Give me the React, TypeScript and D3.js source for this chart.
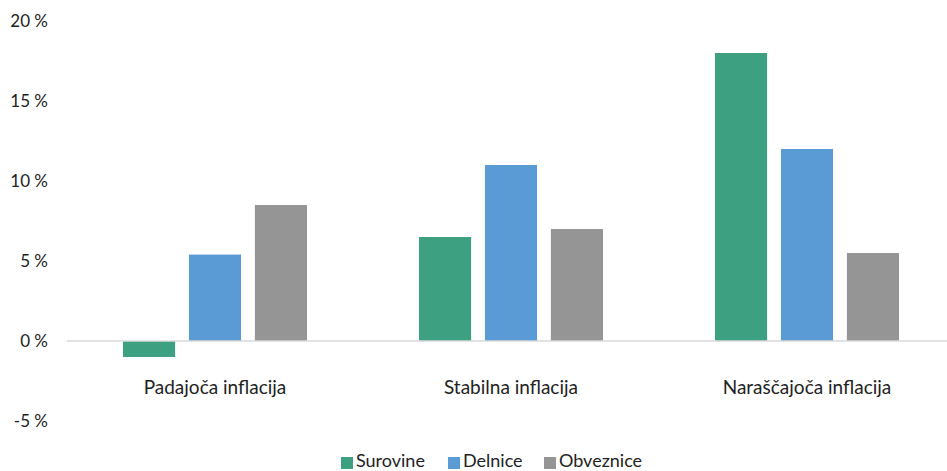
import React from "react";
import * as d3 from "d3";

const categories = ["Padajoča inflacija", "Stabilna inflacija", "Naraščajoča inflacija"];
const seriesNames = ["Surovine", "Delnice", "Obveznice"];
const surovine = [-1, 6.5, 18];
const delnice = [5.4, 11, 12];
const obveznice = [8.5, 7, 5.5];
const yTicks = [-5, 0, 5, 10, 15, 20];
const colors = ["#3CA081", "#5B9BD5", "#949594"];

const W = 947;
const H = 471;
const FONT = "Lato, 'Open Sans', sans-serif";

export default function App() {
  const values = [surovine, delnice, obveznice];
  const y = d3.scaleLinear().domain([-5, 20]).range([421, 21]);
  const x0 = d3.scaleBand<string>().domain(categories).range([67, 955]).paddingInner(0).paddingOuter(0);
  const x1 = d3
    .scaleBand<string>()
    .domain(seriesNames)
    .range([56, x0.bandwidth() - 56])
    .paddingInner(0.21);

  const legendX = [341, 448, 544];

  return (
    <svg
      width={W}
      height={H}
      style={{ position: "absolute", left: 0, top: 0, background: "#fff" }}
      fontFamily={FONT}
    >
      {yTicks.map((t) => (
        <text key={t} x={48} y={y(t)} dy="0.35em" textAnchor="end" fontSize={17} fill="#222">
          {t} %
        </text>
      ))}
      {categories.map((c, ci) => (
        <g key={c} transform={`translate(${x0(c)},0)`}>
          {seriesNames.map((s, si) => {
            const v = values[si][ci];
            const y0 = y(0);
            const yv = y(v);
            return (
              <rect
                key={s}
                x={x1(s)}
                y={Math.min(y0, yv)}
                width={x1.bandwidth()}
                height={Math.abs(yv - y0)}
                fill={colors[si]}
              />
            );
          })}
          <text
            x={x0.bandwidth() / 2}
            y={387}
            dy="0.35em"
            textAnchor="middle"
            fontSize={19}
            fill="#222"
          >
            {c}
          </text>
        </g>
      ))}
      <line x1={67} x2={W} y1={y(0)} y2={y(0)} stroke="#d9d9d9" strokeWidth={1.5} />
      {seriesNames.map((s, i) => (
        <g key={s} transform={`translate(${legendX[i]},461)`}>
          <rect x={0} y={-4} width={12} height={12} fill={colors[i]} />
          <text x={15} y={0} dy="0.35em" fontSize={18} fill="#222">
            {s}
          </text>
        </g>
      ))}
    </svg>
  );
}
